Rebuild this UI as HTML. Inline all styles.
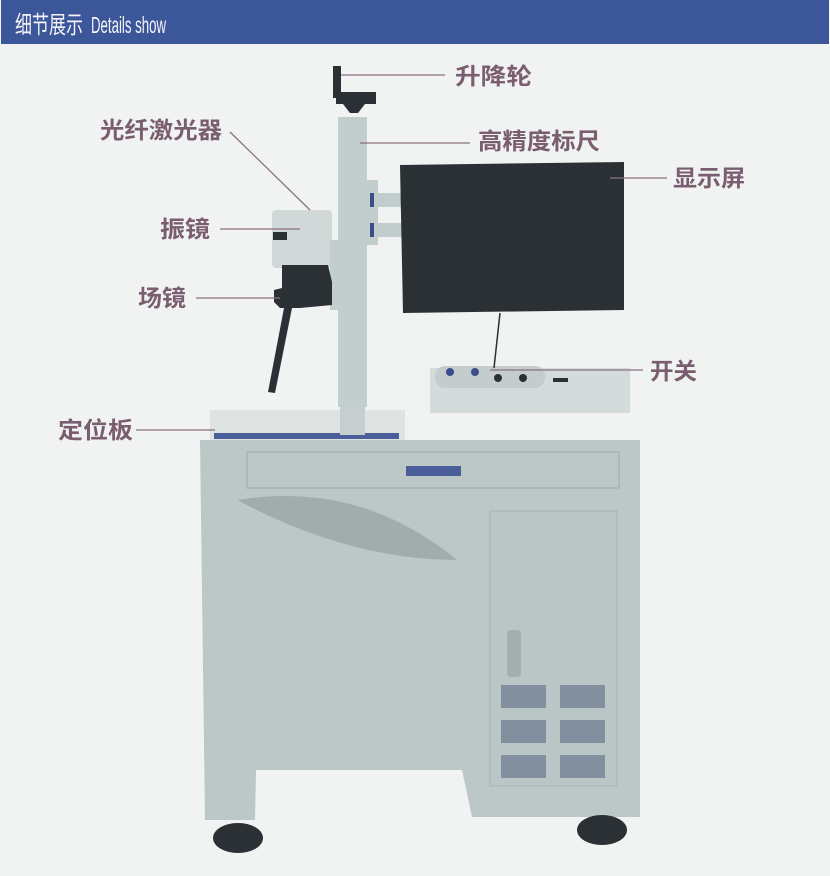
<!DOCTYPE html>
<html><head><meta charset="utf-8"><style>
body{margin:0;width:830px;height:876px;background:#f1f3f2;overflow:hidden}
svg{display:block}
text{font-family:"Liberation Sans","Noto Sans CJK SC",sans-serif;}
</style></head><body>
<svg width="830" height="876" viewBox="0 0 830 876">
<rect width="830" height="876" fill="#f1f3f2"/>
<rect x="1" y="0" width="828" height="44" fill="#3c5799"/>
<text x="15" y="33" font-size="24" fill="#f4f4f8" font-family="Noto Sans CJK SC" textLength="68" lengthAdjust="spacingAndGlyphs">细节展示</text>
<text x="91" y="33" font-size="23" fill="#f4f4f8" textLength="75" lengthAdjust="spacingAndGlyphs">Details show</text>

<!-- base plate -->
<rect x="210" y="410" width="195" height="30" fill="#dfe4e3"/>
<rect x="214" y="433" width="185" height="6" fill="#4a5e9a"/>
<rect x="340" y="405" width="25" height="30" fill="#c5cfcf"/>
<!-- cabinet -->
<path d="M200 440 L640 440 L640 817 L472 817 L462 770 L256 770 L255 820 L205 820 Z" fill="#bcc8c8"/>
<rect x="247" y="452" width="372" height="36" fill="none" stroke="#a8b2b4" stroke-width="1.5"/>
<rect x="406" y="466" width="55" height="10" fill="#4a5e9a"/>
<path d="M237 500 Q360 480 457 560 Q350 560 237 500 Z" fill="#a2acac"/>
<rect x="490" y="511" width="127" height="275" fill="#bac6c6" stroke="#a6b0b2"/>
<rect x="507" y="630" width="14" height="47" rx="4" fill="#a4aeae"/>
<g fill="#5c6a84">
<rect x="501" y="685" width="45" height="23" opacity=".6"/><rect x="560" y="685" width="45" height="23" opacity=".6"/>
<rect x="501" y="720" width="45" height="23" opacity=".6"/><rect x="560" y="720" width="45" height="23" opacity=".6"/>
<rect x="501" y="755" width="45" height="23" opacity=".6"/><rect x="560" y="755" width="45" height="23" opacity=".6"/>
</g>
<ellipse cx="238" cy="838" rx="25" ry="15" fill="#2b3034"/>
<ellipse cx="602" cy="830" rx="25" ry="15" fill="#2b3034"/>

<!-- control panel -->
<rect x="430" y="368" width="200" height="45" fill="#d4dbdb"/>
<rect x="435" y="366" width="110" height="22" rx="10" fill="#c4cccc"/>
<circle cx="450" cy="372" r="4" fill="#3b4e8a"/><circle cx="475" cy="372" r="4" fill="#3b4e8a"/>
<circle cx="498" cy="378" r="4" fill="#2b3034"/><circle cx="523" cy="378" r="4" fill="#2b3034"/>
<rect x="553" y="378" width="15" height="4" fill="#2b3034"/>
<line x1="500" y1="313" x2="494" y2="368" stroke="#2b3034" stroke-width="1.5"/>

<!-- column -->
<rect x="338" y="117" width="29" height="290" fill="#c2cdcd"/>
<rect x="333" y="66" width="8" height="32" fill="#2b3034"/>
<path d="M336 92 L376 92 L376 104 L365 104 L358 113 L350 113 L343 104 L336 104 Z" fill="#2b3034"/>
<rect x="366" y="180" width="12" height="65" fill="#c2cdcd"/>
<rect x="372" y="193" width="30" height="14" fill="#c2cdcd"/>
<rect x="372" y="223" width="30" height="14" fill="#c2cdcd"/>
<rect x="370" y="193" width="4" height="14" fill="#3b4e8a"/><rect x="370" y="223" width="4" height="14" fill="#3b4e8a"/>
<!-- monitor -->
<path d="M400 165 L624 162 L624 310 L403 313 Z" fill="#2b3034"/>
<!-- head -->
<rect x="272" y="210" width="60" height="58" rx="4" fill="#d0d8d8"/>
<rect x="273" y="232" width="14" height="8" fill="#2b3034"/>
<rect x="330" y="240" width="10" height="70" fill="#c2cdcd"/>
<path d="M282 265 L328 265 L332 282 L332 305 L300 308 L280 308 L274 302 L274 290 L282 288 Z" fill="#2b3034"/>
<path d="M292 308 L284 308 L268 392 L275 393 Z" fill="#2b3034"/>

<!-- leaders -->
<g stroke="#8a7082" stroke-width="1.3" fill="none">
<line x1="341" y1="75" x2="445" y2="75"/>
<line x1="360" y1="143" x2="470" y2="143"/>
<line x1="610" y1="178" x2="667" y2="178"/>
<line x1="230" y1="132" x2="310" y2="210"/>
<line x1="220" y1="229" x2="300" y2="229"/>
<line x1="196" y1="298" x2="280" y2="298"/>
<line x1="490" y1="370" x2="643" y2="370"/>
<line x1="136" y1="430" x2="215" y2="430"/>
</g>
<g font-size="23" fill="#7a5e70" font-family="Noto Sans CJK SC" font-weight="bold">
<text x="455" y="84" textLength="77" lengthAdjust="spacingAndGlyphs">升降轮</text>
<text x="478" y="149" textLength="122" lengthAdjust="spacingAndGlyphs">高精度标尺</text>
<text x="100" y="138" textLength="122" lengthAdjust="spacingAndGlyphs">光纤激光器</text>
<text x="673" y="186" textLength="72" lengthAdjust="spacingAndGlyphs">显示屏</text>
<text x="160" y="237" textLength="50" lengthAdjust="spacingAndGlyphs">振镜</text>
<text x="138" y="306" textLength="48" lengthAdjust="spacingAndGlyphs">场镜</text>
<text x="650" y="379" textLength="47" lengthAdjust="spacingAndGlyphs">开关</text>
<text x="58" y="438" textLength="75" lengthAdjust="spacingAndGlyphs">定位板</text>
</g>
</svg>
</body></html>
